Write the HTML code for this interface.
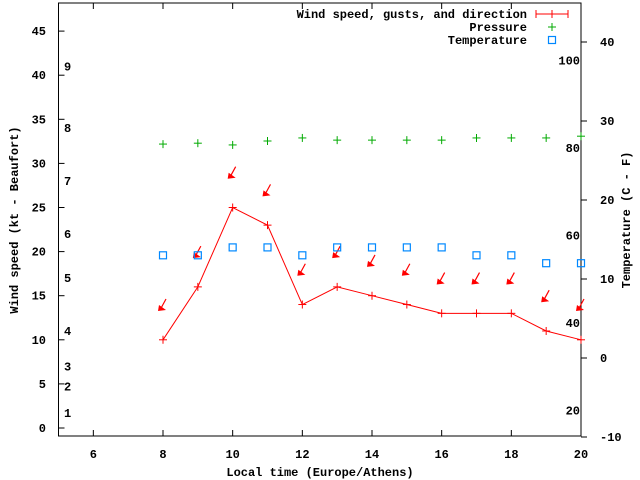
<!DOCTYPE html>
<html><head><meta charset="utf-8"><style>body{margin:0;background:#fff}svg{display:block}text{font-family:"Liberation Mono","DejaVu Sans Mono",monospace;font-weight:bold;font-size:12px}</style></head>
<body>
<svg id="c" width="640" height="480" xmlns="http://www.w3.org/2000/svg"></svg>
<script>
const hours=[8,9,10,11,12,13,14,15,16,17,18,19,20];
const wind=[10,16,25,23,14,16,15,14,13,13,13,11,10];
const gusts=[14,20,29,27,18,20,19,18,17,17,17,15,14];
const pressure=[80.9,81.1,80.7,81.6,82.3,81.8,81.8,81.8,81.8,82.3,82.3,82.3,82.7];
const temperature=[13,13,14,14,13,14,14,14,14,13,13,12,12];
const xTicks=[6,8,10,12,14,16,18,20];
const yTicks=[0,5,10,15,20,25,30,35,40,45];
const tTicks=[-10,0,10,20,30,40];
const pTicks=[20,40,60,80,100];
const beaufort=[[1,1],[2,4],[3,7],[4,11],[5,17],[6,22],[7,28],[8,34],[9,41]];
const L=58.5,R=581,T=3,B=436;
const X=v=>L+(v-5)*(R-L)/15;
const Y=v=>428-v*8.82;
const YT=v=>358-v*7.9;
const YP=v=>148-(v-80)*4.375;
const s=document.getElementById('c');const NS='http://www.w3.org/2000/svg';
function el(t,a,p){const e=document.createElementNS(NS,t);for(const k in a)e.setAttribute(k,a[k]);(p||s).appendChild(e);return e;}
function tx(x,y,str,anchor,name){const e=el('text',{x:x,y:y,'text-anchor':anchor||'middle'});e.textContent=str;return e;}
const fr=el('rect',{x:L,y:T,width:R-L,height:B-T,fill:'none',stroke:'#000','stroke-width':1});

xTicks.forEach(v=>{el('line',{x1:X(v),x2:X(v),y1:B,y2:B-6,stroke:'#000'});el('line',{x1:X(v),x2:X(v),y1:T,y2:T+6,stroke:'#000'});tx(X(v),458,String(v),'middle','x-tick-label');});
yTicks.forEach(v=>{el('line',{x1:L,x2:L+6,y1:Y(v),y2:Y(v),stroke:'#000'});tx(46,Y(v)+4,String(v),'end','y-tick-label');});
tTicks.forEach(v=>{el('line',{x1:R,x2:R+6,y1:YT(v),y2:YT(v),stroke:'#000'});tx(600,YT(v)+4,String(v),'start','temperature-tick-label');});
pTicks.forEach(v=>{tx(580,YP(v)+4,String(v),'end','pressure-tick-label');});
beaufort.forEach(b=>{tx(64,Y(b[1])+4+ (b[0]<3?-6:0),String(b[0]),'start','beaufort-label');});
tx(320,476,'Local time (Europe/Athens)','middle','x-axis-title');
let yt=tx(0,0,'Wind speed (kt - Beaufort)','middle','y-axis-title');yt.setAttribute('transform','translate(18,220) rotate(-90)');
let tt=tx(0,0,'Temperature (C - F)','middle','right-axis-title');tt.setAttribute('transform','translate(630,220) rotate(-90)');
// wind line
const ln=el('polyline',{points:hours.map((h,i)=>X(h)+','+Y(wind[i])).join(' '),fill:'none',stroke:'#f00'});

hours.forEach((h,i)=>{const g=el('g',{stroke:'#f00'});
el('line',{x1:X(h)-4,x2:X(h)+4,y1:Y(wind[i]),y2:Y(wind[i])},g);el('line',{x1:X(h),x2:X(h),y1:Y(wind[i])-4,y2:Y(wind[i])+4},g);});
hours.forEach((h,i)=>{const cx=X(h),cy=Y(gusts[i]);const hx=cx-3,hy=cy+5.5;
const g=el('g',{});
el('line',{x1:cx+3,y1:cy-5.5,x2:hx,y2:hy,stroke:'#f00','stroke-width':1.2},g);
el('polygon',{points:`${hx-2},${hy+1} ${hx-1},${hy-5} ${hx+6},${hy}`,fill:'#f00'},g);});
hours.forEach((h,i)=>{const g=el('g',{stroke:'#0a0'});
el('line',{x1:X(h)-4,x2:X(h)+4,y1:YP(pressure[i]),y2:YP(pressure[i])},g);el('line',{x1:X(h),x2:X(h),y1:YP(pressure[i])-4,y2:YP(pressure[i])+4},g);});
hours.forEach((h,i)=>{const r=el('rect',{x:X(h)-3.5,y:YT(temperature[i])-3.5,width:7,height:7,fill:'none',stroke:'#08f','stroke-width':1.2});});
// legend
tx(527,18,'Wind speed, gusts, and direction','end','legend-wind');
el('line',{x1:536,x2:568,y1:14,y2:14,stroke:'#f00'});el('line',{x1:536,x2:536,y1:10,y2:18,stroke:'#f00'});el('line',{x1:568,x2:568,y1:10,y2:18,stroke:'#f00'});el('line',{x1:552,x2:552,y1:10,y2:18,stroke:'#f00'});
tx(527,31,'Pressure','end','legend-pressure');
el('line',{x1:548,x2:556,y1:27,y2:27,stroke:'#0a0'});el('line',{x1:552,x2:552,y1:23,y2:31,stroke:'#0a0'});
tx(527,44,'Temperature','end','legend-temperature');
el('rect',{x:548.5,y:36.5,width:7,height:7,fill:'none',stroke:'#08f','stroke-width':1.2});
</script>
</body></html>
